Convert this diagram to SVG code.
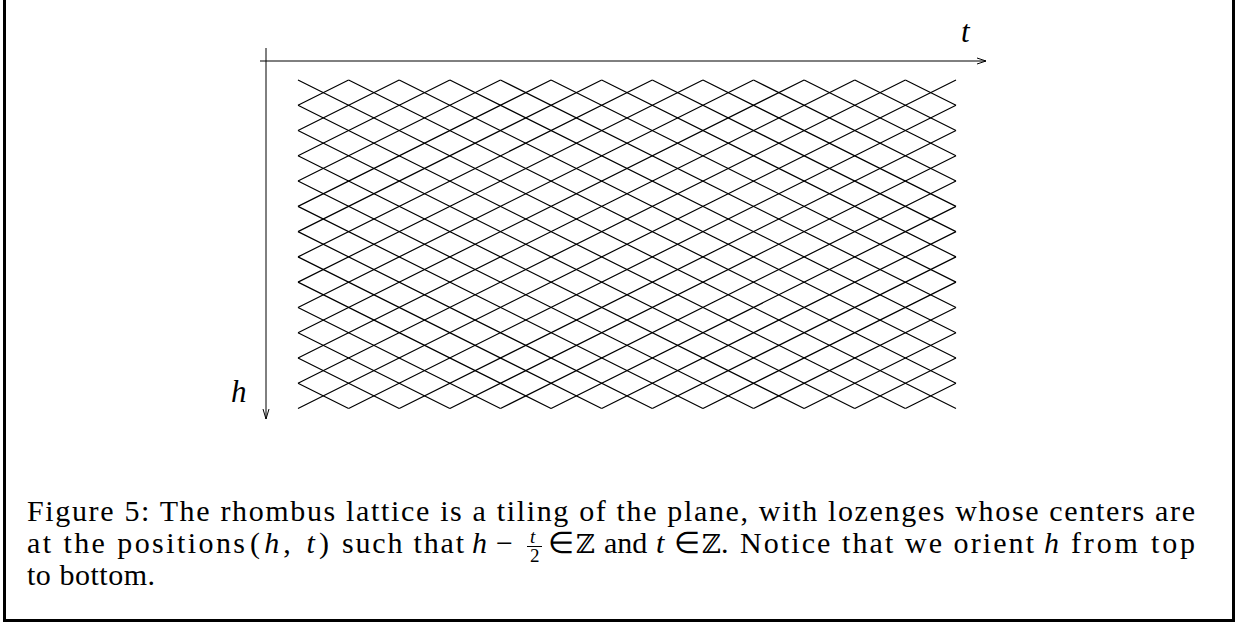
<svg xmlns="http://www.w3.org/2000/svg" width="1240" height="622" viewBox="0 0 1240 622">
<style>
.frame{fill:none;stroke:#000;stroke-width:3}
.axis{fill:none;stroke:#000;stroke-width:1}
.lat{fill:none;stroke:#000;stroke-width:1.2}
text{font-family:'Liberation Serif','Times New Roman',serif;fill:#000}
.lbl{font-style:italic;font-size:31px}
.cap{font-size:30px}
.it{font-style:italic}
.frac{font-size:19px}
.bb{font-family:'DejaVu Serif','DejaVu Sans',serif;font-size:26px}
</style>
<rect width="1240" height="622" fill="#fff"/>
<rect class="frame" x="4.5" y="-10" width="1229" height="630.5"/>
<g id="lattice" transform="translate(298,80) scale(50.615,25.27)">
<path class="lat" vector-effect="non-scaling-stroke" d="M12 0L13 1M11 0L13 2M10 0L13 3M9 0L13 4M8 0L13 5M7 0L13 6M6 0L13 7M5 0L13 8M4 0L13 9M3 0L13 10M2 0L13 11M1 0L13 12M0 0L13 13M0 1L12 13M0 2L11 13M0 3L10 13M0 4L9 13M0 5L8 13M0 6L7 13M0 7L6 13M0 8L5 13M0 9L4 13M0 10L3 13M0 11L2 13M0 12L1 13"/>
<path class="lat" vector-effect="non-scaling-stroke" d="M0 1L1 0M0 2L2 0M0 3L3 0M0 4L4 0M0 5L5 0M0 6L6 0M0 7L7 0M0 8L8 0M0 9L9 0M0 10L10 0M0 11L11 0M0 12L12 0M0 13L13 0M1 13L13 1M2 13L13 2M3 13L13 3M4 13L13 4M5 13L13 5M6 13L13 6M7 13L13 7M8 13L13 8M9 13L13 9M10 13L13 10M11 13L13 11M12 13L13 12"/>
</g>
<g id="axes">
<path class="axis" d="M260 61H986M977 58L986 61L977 64"/>
<path class="axis" d="M266 48V419M263 409L266 419L269 409"/>
</g>
<text id="label-t" class="lbl" x="961" y="42">t</text>
<text id="label-h" class="lbl" x="231" y="402">h</text>
<g id="caption">
<text class="cap" x="27" y="521" textLength="1168" lengthAdjust="spacing">Figure 5: The rhombus lattice is a tiling of the plane, with lozenges whose centers are</text>
<text class="cap" x="27" y="553" textLength="218" lengthAdjust="spacing">at the positions</text>
<text class="cap" x="250" y="553" textLength="79" lengthAdjust="spacing">(<tspan class="it">h</tspan>, <tspan class="it">t</tspan>)</text>
<text class="cap" x="342" y="553" textLength="122" lengthAdjust="spacing">such that</text>
<text class="cap it" x="472" y="553">h</text>
<text class="cap" x="496" y="553">−</text>
<text class="frac it" x="530" y="543">t</text>
<path d="M527 546.5H542" stroke="#000" stroke-width="1"/>
<text class="frac" x="530" y="562">2</text>
<text class="cap" x="548" y="553">∈</text>
<text class="bb" x="576" y="553">ℤ</text>
<text class="cap" x="604" y="553">and</text>
<text class="cap it" x="656" y="553">t</text>
<text class="cap" x="674" y="553">∈</text>
<text class="bb" x="702" y="553">ℤ</text>
<text class="cap" x="721" y="553">.</text>
<text class="cap" x="740" y="553" textLength="294" lengthAdjust="spacing">Notice that we orient</text>
<text class="cap it" x="1044" y="553">h</text>
<text class="cap" x="1071" y="553" textLength="124" lengthAdjust="spacing">from top</text>
<text class="cap" x="27" y="585" textLength="128" lengthAdjust="spacing">to bottom.</text>
</g>
</svg>
